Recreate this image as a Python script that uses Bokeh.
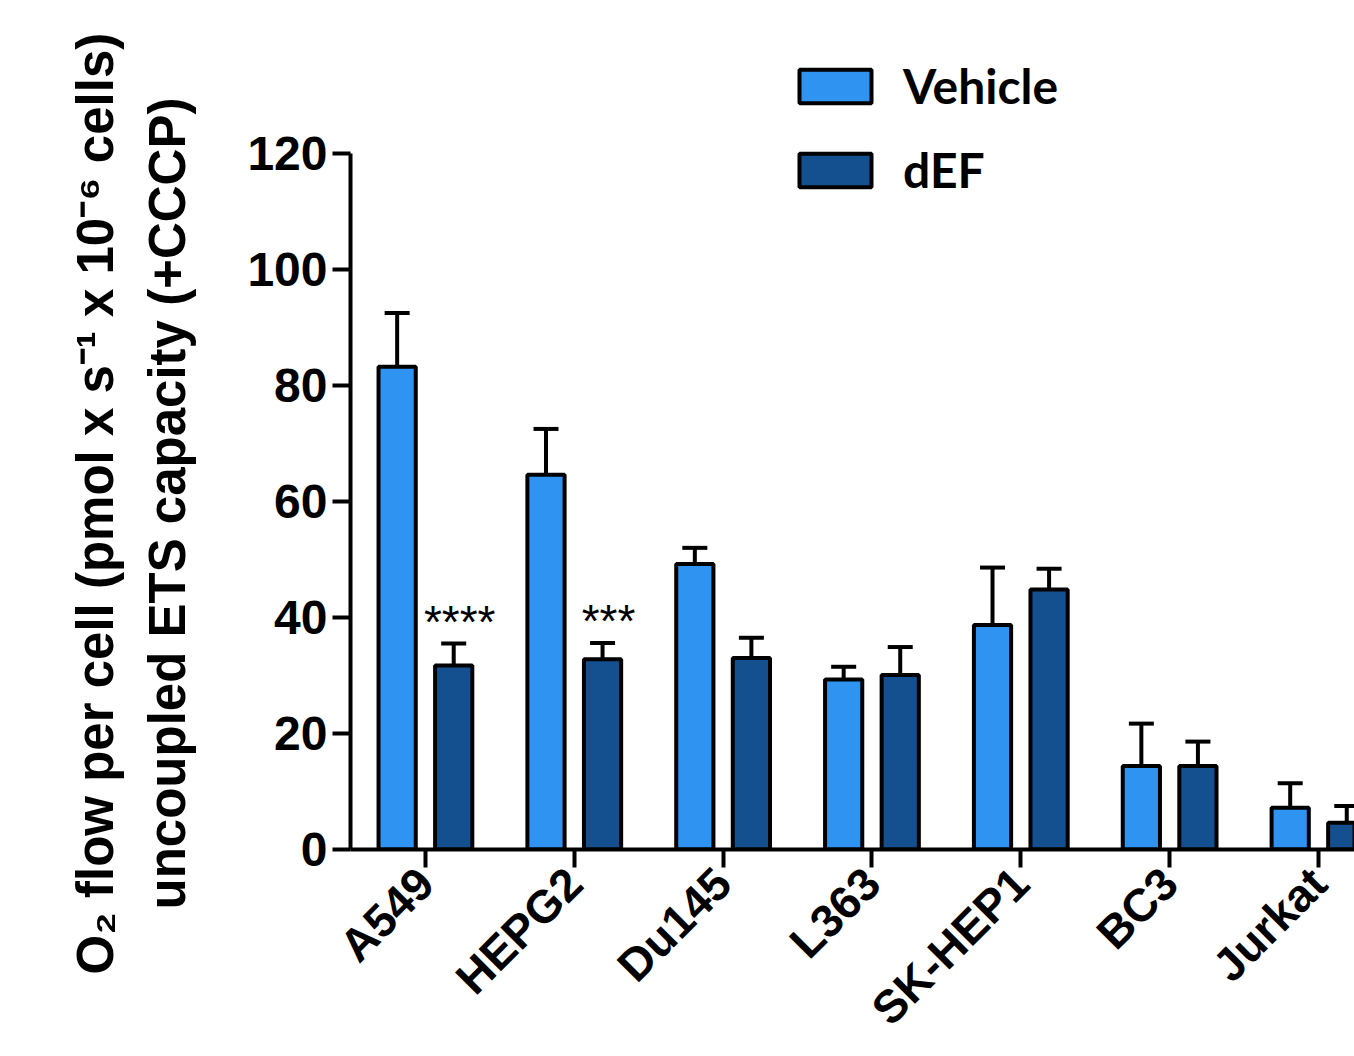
from bokeh.plotting import figure
from bokeh.models import (ColumnDataSource, Range1d, FixedTicker, Title,
                          Whisker, TeeHead, Legend, LegendItem)
from bokeh.transform import dodge
from bokeh.embed import file_html
from bokeh.resources import INLINE
from bokeh.core.properties import value

# ---- data ----
cell_lines = ["A549", "HEPG2", "Du145", "L363", "SK-HEP1", "BC3", "Jurkat"]
vehicle_mean = [83.2, 64.6, 49.2, 29.3, 38.7, 14.4, 7.2]
vehicle_sem = [9.3, 7.9, 2.8, 2.2, 9.9, 7.3, 4.2]
def_mean = [31.7, 32.8, 33.0, 30.1, 44.8, 14.4, 4.6]
def_sem = [3.8, 2.8, 3.5, 4.8, 3.6, 4.2, 2.9]
significance = ["****", "***", "", "", "", "", ""]
y_ticks = [0, 20, 40, 60, 80, 100, 120]

idx = list(range(len(cell_lines)))
src = ColumnDataSource(dict(
    idx=idx,
    veh=vehicle_mean,
    veh_err=[m + s for m, s in zip(vehicle_mean, vehicle_sem)],
    de=def_mean,
    de_err=[m + s for m, s in zip(def_mean, def_sem)],
    sig=significance,
))

VEH_COLOR = "#2F93F2"
DEF_COLOR = "#14508F"
AX_FONT = "Liberation Sans"

p = figure(width=1354, height=1056, output_backend="svg", toolbar_location=None,
           x_range=Range1d(-0.5034, 6.242), y_range=Range1d(0, 139.46),
           min_border_left=350, min_border_right=0, min_border_top=40,
           min_border_bottom=196, outline_line_color=None)
p.xgrid.visible = False
p.ygrid.visible = False

off = 0.19
bw = 0.25
r_veh = p.vbar(x=dodge("idx", -off, range=p.x_range), top="veh", width=bw, bottom=0,
               source=src, fill_color=VEH_COLOR, line_color="black", line_width=4)
r_def = p.vbar(x=dodge("idx", off, range=p.x_range), top="de", width=bw, bottom=0,
               source=src, fill_color=DEF_COLOR, line_color="black", line_width=4)

for base, lo, hi in [(-off, "veh", "veh_err"), (off, "de", "de_err")]:
    w = Whisker(source=src, base=dodge("idx", base, range=p.x_range), lower=lo, upper=hi,
                dimension="height", line_color="black", line_width=4,
                lower_head=None,
                upper_head=TeeHead(size=25, line_width=4, line_color="black"),
                level="underlay")
    p.add_layout(w)

p.text(x=dodge("idx", off, range=p.x_range), y="de_err", text="sig", source=src,
       text_align="center", text_baseline="alphabetic", x_offset=6, y_offset=-22,
       text_font=value(AX_FONT), text_font_size="46px", text_color="black")

# ---- axes ----
xa = p.xaxis[0]
xa.ticker = FixedTicker(ticks=idx)
xa.major_label_overrides = {i: c for i, c in zip(idx, cell_lines)}
xa.major_label_orientation = 0.785398
xa.major_label_text_font = AX_FONT
xa.major_label_text_font_style = "bold"
xa.major_label_text_font_size = "46px"
xa.major_label_text_color = "black"
xa.major_label_standoff = 8
xa.major_tick_out = 18
xa.major_tick_in = 0
xa.major_tick_line_width = 4
xa.minor_tick_line_color = None
xa.axis_line_width = 4
xa.axis_line_color = "black"

ya = p.yaxis[0]
ya.ticker = FixedTicker(ticks=y_ticks)
ya.bounds = (0, 120)
ya.major_label_text_font = AX_FONT
ya.major_label_text_font_style = "bold"
ya.major_label_text_font_size = "48px"
ya.major_label_text_color = "black"
ya.major_label_standoff = 5
ya.major_tick_out = 18
ya.major_tick_in = 0
ya.major_tick_line_width = 4
ya.minor_tick_line_color = None
ya.axis_line_width = 4
ya.axis_line_color = "black"

# two-line y-axis title
t2 = Title(text="uncoupled ETS capacity (+CCCP)", align="left", offset=-60,
           text_font=AX_FONT, text_font_style="bold", text_font_size="51px",
           text_color="black", standoff=98)
t1 = Title(text="O\u2082 flow per cell (pmol x s\u207b\u00b9 x 10\u207b\u2076 cells)",
           align="left", offset=-125,
           text_font=AX_FONT, text_font_style="bold", text_font_size="51px",
           text_color="black", standoff=-72)
p.add_layout(t2, "left")
p.add_layout(t1, "left")

# ---- legend ----
legend = Legend(items=[LegendItem(label="Vehicle", renderers=[r_veh]),
                       LegendItem(label="dEF", renderers=[r_def])],
                location=(440, 651), orientation="vertical",
                glyph_width=90, glyph_height=42, label_standoff=23,
                spacing=27, padding=0, margin=0,
                border_line_color=None, background_fill_alpha=0,
                label_text_font="Lato", label_text_font_style="bold",
                label_text_font_size="48px", label_text_color="black",
                label_text_baseline="middle")
p.add_layout(legend, "center")

open("out.html", "w").write(file_html(p, INLINE))
